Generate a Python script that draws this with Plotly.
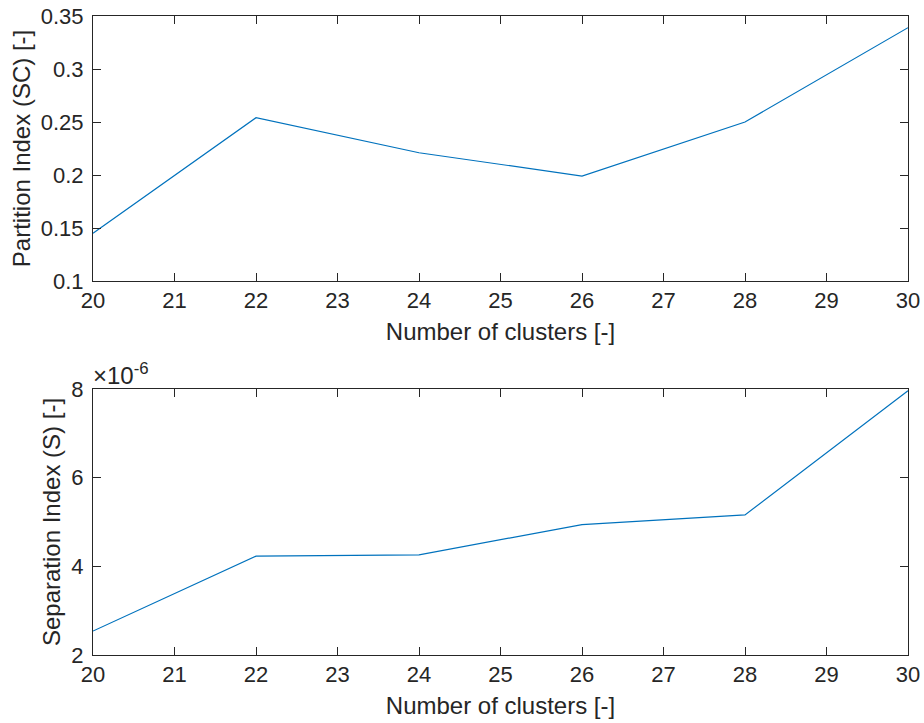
import plotly.graph_objects as go

clusters = [20, 22, 24, 26, 28, 30]
partition_index = [0.145, 0.254, 0.221, 0.199, 0.250, 0.339]
separation_index = [2.54e-6, 4.23e-6, 4.26e-6, 4.94e-6, 5.16e-6, 7.96e-6]

x_ticks = list(range(20, 31))
y1_ticks = [0.1, 0.15, 0.2, 0.25, 0.3, 0.35]
y1_labels = ["0.1", "0.15", "0.2", "0.25", "0.3", "0.35"]
y2_ticks = [2e-6, 4e-6, 6e-6, 8e-6]
y2_labels = ["2", "4", "6", "8"]

W, H = 924, 723
FONT = "Liberation Sans, Arial, Helvetica, sans-serif"
AX = "#262626"
LINE = "#0072BD"

fig = go.Figure()
fig.add_trace(go.Scatter(x=clusters, y=partition_index, mode="lines",
                         line=dict(color=LINE, width=1.2), xaxis="x", yaxis="y"))
fig.add_trace(go.Scatter(x=clusters, y=separation_index, mode="lines",
                         line=dict(color=LINE, width=1.2), xaxis="x2", yaxis="y2"))

xdom = [93 / W, 908 / W]
y1dom = [1 - 281 / H, 1 - 16 / H]
y2dom = [1 - 655 / H, 1 - 389 / H]

common = dict(showline=True, linecolor=AX, linewidth=1, mirror="ticks",
              ticks="inside", ticklen=8, tickwidth=1, tickcolor=AX,
              showgrid=False, zeroline=False, automargin=False,
              tickfont=dict(family=FONT, size=22, color=AX))

fig.update_layout(
    template="none",
    width=W, height=H,
    margin=dict(l=0, r=0, t=0, b=0, autoexpand=False),
    paper_bgcolor="white", plot_bgcolor="white",
    showlegend=False,
    xaxis=dict(domain=xdom, anchor="y", range=[20, 30], tickvals=x_ticks,
               title=dict(text="Number of clusters [-]", standoff=10,
                          font=dict(family=FONT, size=24, color=AX)),
               **common),
    yaxis=dict(domain=y1dom, anchor="x", range=[0.1, 0.35],
               tickvals=y1_ticks, ticktext=y1_labels, ticklabelstandoff=4,
               title=dict(text="Partition Index (SC) [-]", standoff=3,
                          font=dict(family=FONT, size=24, color=AX)),
               **common),
    xaxis2=dict(domain=xdom, anchor="y2", range=[20, 30], tickvals=x_ticks,
                title=dict(text="Number of clusters [-]", standoff=10,
                           font=dict(family=FONT, size=24, color=AX)),
                **common),
    yaxis2=dict(domain=y2dom, anchor="x2", range=[2e-6, 8e-6],
                tickvals=y2_ticks, ticktext=y2_labels, ticklabelstandoff=4,
                title=dict(text="Separation Index (S) [-]", standoff=3,
                           font=dict(family=FONT, size=24, color=AX)),
                **common),
    annotations=[dict(text="×10<sup>-6</sup>", x=xdom[0], y=y2dom[1],
                      xref="paper", yref="paper", xanchor="left", yanchor="bottom",
                      xshift=-2, yshift=-2, showarrow=False,
                      font=dict(family=FONT, size=24, color=AX))],
)

fig.write_html("out.html")
